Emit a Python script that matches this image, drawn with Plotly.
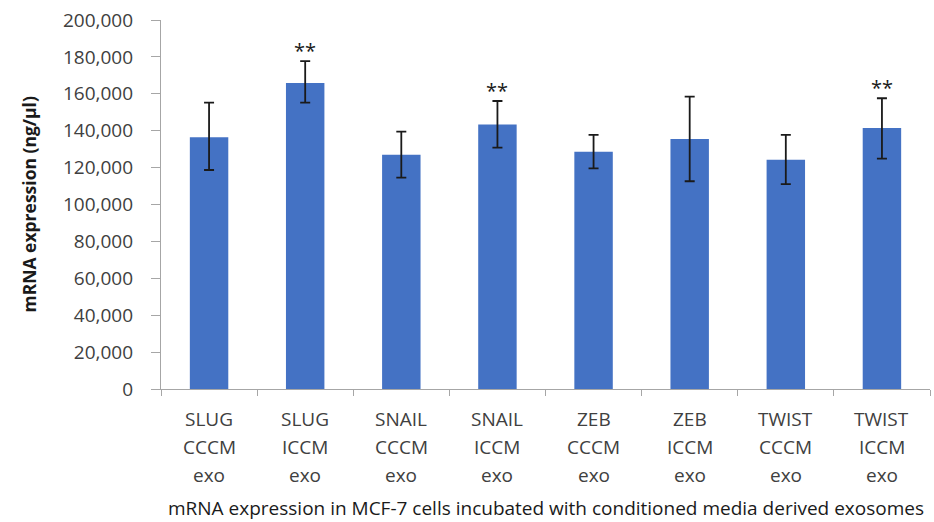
import plotly.graph_objects as go

# Groups: gene / conditioned-media source / exosomes
categories = [
    "SLUG<br>CCCM<br>exo", "SLUG<br>ICCM<br>exo",
    "SNAIL<br>CCCM<br>exo", "SNAIL<br>ICCM<br>exo",
    "ZEB<br>CCCM<br>exo", "ZEB<br>ICCM<br>exo",
    "TWIST<br>CCCM<br>exo", "TWIST<br>ICCM<br>exo",
]
mean_expr = [136500, 165900, 126900, 143300, 128600, 135500, 124300, 141500]
err_plus = [18700, 11800, 12600, 12800, 9100, 23000, 13400, 16100]
err_minus = [17800, 10700, 12300, 12500, 9000, 22900, 13300, 16600]
significance = ["", "**", "", "**", "", "", "", "**"]

y_ticks = list(range(0, 200001, 20000))
y_tick_text = [f"{v:,}" for v in y_ticks]

y_title = "mRNA expression (ng/µl)"
x_title = "mRNA expression in MCF-7 cells incubated with conditioned media derived exosomes"

FONT = "Open Sans"
TICK_COLOR = "#404040"
AXIS_COLOR = "#A6A6A6"

fig = go.Figure()
fig.add_trace(go.Bar(
    x=categories,
    y=mean_expr,
    width=0.4,
    marker=dict(color="#4472C4", line=dict(width=0)),
    error_y=dict(
        type="data", symmetric=False,
        array=err_plus, arrayminus=err_minus,
        color="#1a1a1a", thickness=1.8, width=5,
    ),
    hoverinfo="x+y",
))

annotations = []
# multi-line category labels under each bar
for cat in categories:
    for i, line in enumerate(cat.split("<br>")):
        annotations.append(dict(
            x=cat, xref="x", y=0, yref="paper",
            text=line, showarrow=False,
            yanchor="middle", yshift=-(30 + 28 * i),
            font=dict(family=FONT, size=19, color=TICK_COLOR),
        ))

# significance stars above the error bars
for cat, m, ep, s in zip(categories, mean_expr, err_plus, significance):
    if s:
        annotations.append(dict(
            x=cat, xref="x", y=m + ep, yref="y",
            text=s, showarrow=False,
            yanchor="middle", yshift=11,
            font=dict(family=FONT, size=20, color="#1a1a1a"),
        ))

annotations.append(dict(
    x=0.5, xref="paper", y=0, yref="paper",
    text=x_title, showarrow=False,
    yanchor="middle", yshift=-119,
    font=dict(family=FONT, size=19, color="#1a1a1a"),
))
annotations.append(dict(
    x=0, xref="paper", y=0.5, yref="paper",
    text=f"<b>{y_title}</b>", showarrow=False, textangle=-90,
    xanchor="center", xshift=-133,
    font=dict(family=FONT, size=17.5, color="#1a1a1a"),
))

fig.update_layout(
    width=934, height=522,
    margin=dict(l=161, r=4, t=20, b=133, autoexpand=False),
    paper_bgcolor="white", plot_bgcolor="white",
    showlegend=False,
    bargap=0.6,
    annotations=annotations,
    font=dict(family=FONT, color=TICK_COLOR),
    xaxis=dict(
        type="category", range=[-0.5, 7.5],
        showticklabels=False,
        showline=True, linecolor=AXIS_COLOR, linewidth=1.3,
        ticks="outside", tickson="boundaries", ticklen=6,
        tickcolor=AXIS_COLOR, tickwidth=1.3,
        showgrid=False, zeroline=False,
    ),
    yaxis=dict(
        range=[0, 200000],
        tickvals=y_ticks, ticktext=y_tick_text,
        tickfont=dict(family=FONT, size=19, color=TICK_COLOR),
        showline=True, linecolor=AXIS_COLOR, linewidth=1.3,
        ticks="outside", ticklen=9, tickcolor=AXIS_COLOR, tickwidth=1.3,
        ticklabelstandoff=14,
        showgrid=False, zeroline=False,
    ),
)

fig.write_html("out.html")
